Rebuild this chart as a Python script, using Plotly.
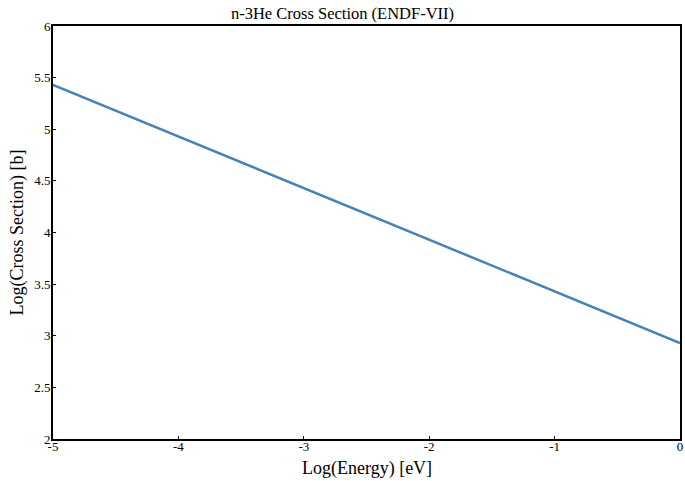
import plotly.graph_objects as go

log_energy = [-5, -4, -3, -2, -1, 0]
log_xs = [5.43, 4.93, 4.43, 3.93, 3.43, 2.93]

x_ticks = [-5, -4, -3, -2, -1, 0]
x_tick_text = ["-5", "-4", "-3", "-2", "-1", "0"]
y_ticks = [2, 2.5, 3, 3.5, 4, 4.5, 5, 5.5, 6]
y_tick_text = ["2", "2.5", "3", "3.5", "4", "4.5", "5", "5.5", "6"]

font_family = "Palatino Linotype, Book Antiqua, Palatino, Liberation Serif, DejaVu Serif, serif"

fig = go.Figure()
fig.add_trace(go.Scatter(x=log_energy, y=log_xs, mode="lines",
                         line=dict(color="#4682b4", width=2.5),
                         showlegend=False, cliponaxis=False))

axis_common = dict(showgrid=False, zeroline=False, showline=True, linecolor="black",
                   linewidth=2, mirror=True, ticks="inside", ticklen=3, tickwidth=1,
                   tickcolor="black", automargin=False, ticklabeloverflow="allow",
                   tickfont=dict(family=font_family, size=13, color="black"))

fig.update_xaxes(range=[-5, 0], tickvals=x_ticks, ticktext=x_tick_text,
                 ticklabelstandoff=-6, **axis_common)
fig.update_yaxes(range=[2, 6], tickvals=y_ticks, ticktext=y_tick_text,
                 ticklabelstandoff=-2, **axis_common)

fig.update_layout(
    width=685, height=481,
    margin=dict(l=53, r=5, t=26, b=42),
    paper_bgcolor="white", plot_bgcolor="white",
    title=dict(text="n-3He Cross Section (ENDF-VII)", x=0.5, xanchor="center",
               y=1 - 13/481, yanchor="middle",
               font=dict(family=font_family, size=16.5, color="black")),
    font=dict(family=font_family, color="black"),
    annotations=[
        dict(text="Log(Energy) [eV]", xref="paper", yref="paper", x=0.5, y=-29/413,
             xanchor="center", yanchor="middle", showarrow=False,
             font=dict(family=font_family, size=18, color="black")),
        dict(text="Log(Cross Section) [b]", xref="paper", yref="paper", x=-36/627, y=0.5,
             xanchor="center", yanchor="middle", textangle=-90, showarrow=False,
             font=dict(family=font_family, size=18, color="black")),
    ],
)

fig.write_html("out.html", config={"displayModeBar": False},
               post_script="document.body.style.margin='0';document.body.style.padding='0';")
